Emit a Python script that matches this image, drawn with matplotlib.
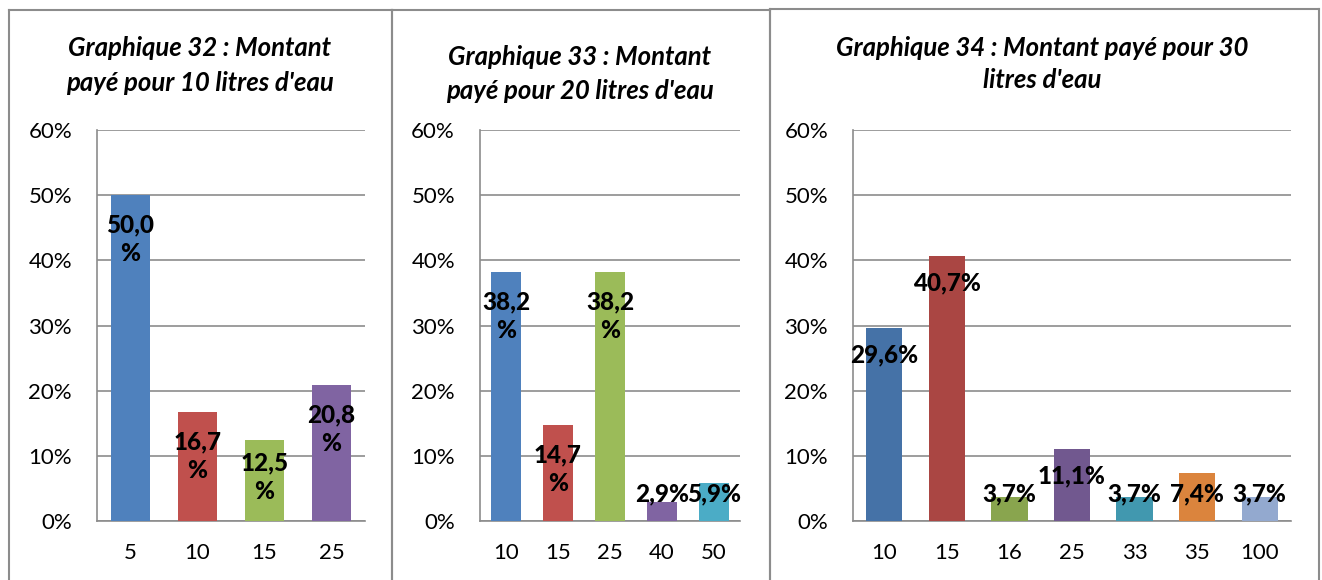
import matplotlib
matplotlib.use("Agg")
import matplotlib.pyplot as plt
from matplotlib.lines import Line2D

plt.rcParams['font.family'] = ['Lato', 'DejaVu Sans']

# données
titres = ["Graphique 32 : Montant\npayé pour 10 litres d'eau",
          "Graphique 33 : Montant\npayé pour 20 litres d'eau",
          "Graphique 34 : Montant payé pour 30\nlitres d'eau"]

cat32 = ['5', '10', '15', '25']
val32 = [50.0, 16.7, 12.5, 20.8]
lab32 = ['50,0\n%', '16,7\n%', '12,5\n%', '20,8\n%']

cat33 = ['10', '15', '25', '40', '50']
val33 = [38.2, 14.7, 38.2, 2.9, 5.9]
lab33 = ['38,2\n%', '14,7\n%', '38,2\n%', '2,9%', '5,9%']

cat34 = ['10', '15', '16', '25', '33', '35', '100']
val34 = [29.6, 40.7, 3.7, 11.1, 3.7, 7.4, 3.7]
lab34 = ['29,6%', '40,7%', '3,7%', '11,1%', '3,7%', '7,4%', '3,7%']

coul_a = ['#4F81BD', '#C0504D', '#9BBB59', '#8064A2', '#4BACC6']
coul_b = ['#4572A7', '#AA4643', '#89A54E', '#71588F', '#4198AF', '#DB843D', '#93A9CF']

W, H = 1322, 580
fig = plt.figure(figsize=(W / 100, H / 100), dpi=100)
gris = '#8C8C8C'

# cadres des trois graphiques (pixels)
cadres = [(9, 392, 10), (392, 770, 10), (770, 1319, 9)]
for x0, x1, y0 in cadres:
    for xs, ys in [([x0, x1], [y0, y0]), ([x0, x0], [y0, H]), ([x1, x1], [y0, H])]:
        fig.add_artist(Line2D([x / W for x in xs], [1 - y / H for y in ys],
                              color=gris, lw=1.5, transform=fig.transFigure))

# axes (pixels gauche, droite)
zones = [(97, 365), (480, 740), (853, 1291)]
titre_pos = [(200, 48, 83), (580, 57, 91), (1042, 48, 80)]
y_haut, y_bas = 130, 521

donnees = [(cat32, val32, lab32, coul_a), (cat33, val33, lab33, coul_a),
           (cat34, val34, lab34, coul_b)]

for (xl, xr), (cats, vals, labs, cols), titre, (tx, ty1, ty2) in zip(zones, donnees, titres, titre_pos):
    ax = fig.add_axes([xl / W, 1 - y_bas / H, (xr - xl) / W, (y_bas - y_haut) / H])
    x = range(len(cats))
    ax.bar(x, vals, width=0.58, color=cols[:len(vals)], zorder=3)
    ax.set_xlim(-0.5, len(cats) - 0.5)
    ax.set_ylim(0, 60)
    ax.set_yticks(range(0, 61, 10))
    ax.set_yticklabels([f'{v}%' for v in range(0, 61, 10)])
    ax.set_xticks(list(x))
    ax.set_xticklabels(cats)
    ax.tick_params(axis='y', length=0, pad=18, labelsize=16)
    ax.tick_params(axis='x', length=0, pad=16, labelsize=16)
    ax.grid(axis='y', color=gris, lw=1.2, zorder=0)
    for s in ['top', 'right']:
        ax.spines[s].set_visible(False)
    for s in ['left', 'bottom']:
        ax.spines[s].set_color(gris)
        ax.spines[s].set_linewidth(1.2)

    # étiquettes de données, à l'intérieur en haut de la barre
    px = 60 / (y_bas - y_haut)
    for i, (v, t) in enumerate(zip(vals, labs)):
        hauteur = (28 if '\n' not in t else 62) * px
        haut = v - 13 * px
        if haut - hauteur < 13 * px:
            haut = 13 * px + hauteur
        ax.text(i, haut - hauteur / 2, t, ha='center', va='center',
                fontsize=17.5, fontweight='black', linespacing=1.3, zorder=4)

    l1, l2 = titre.split('\n')
    fig.text(tx / W, 1 - ty1 / H, l1, ha='center', va='center', fontsize=18.5,
             fontweight='bold', style='italic')
    fig.text(tx / W, 1 - ty2 / H, l2, ha='center', va='center', fontsize=18.5,
             fontweight='bold', style='italic')

fig.savefig('out.png', dpi=100)
